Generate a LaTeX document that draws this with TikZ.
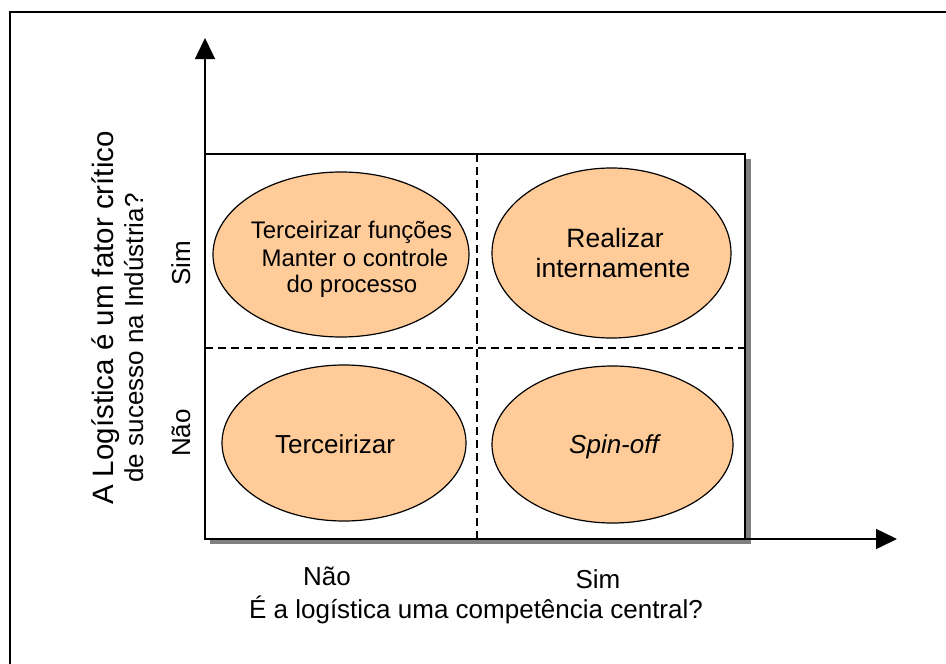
\documentclass[tikz,border=0pt]{standalone}
\usepackage{fontspec}
\setmainfont{Liberation Sans}
\usetikzlibrary{arrows.meta,shapes.geometric}
\definecolor{peach}{HTML}{FFCC99}
\definecolor{shadowgray}{HTML}{808080}
\begin{document}
\begin{tikzpicture}[x=1pt,y=-1pt,
  oval/.style={ellipse,draw=black,line width=1.2pt,fill=peach,inner sep=0pt},
  txt/.style={inner sep=0pt,anchor=base,font=\fontsize{26}{30}\selectfont},
  smalltxt/.style={inner sep=0pt,anchor=base,font=\fontsize{24}{27}\selectfont},
  divider/.style={line width=1.2pt,dash pattern=on 8pt off 5pt},
  axis/.style={line width=1.5pt,-{Triangle[length=21pt,width=20pt]}}]
\useasboundingbox (0,0) rectangle (946,664);
% outer frame (left and top edges visible)
\draw[line width=2pt] (10,664) -- (10,12) -- (946,12);
% matrix box with shadow
\fill[shadowgray] (210,159) rectangle (751,544);
\draw[fill=white,line width=1.5pt] (205,154) rectangle (745,539);
% dividers
\coordinate (vt) at (477,154);
\coordinate (vb) at (477,539);
\coordinate (hl) at (205,348);
\coordinate (hr) at (745,348);
\draw[divider] (vt) -- (vb);
\draw[divider] (hl) -- (hr);
% axes
\coordinate (o) at (205,539);
\coordinate (ytip) at (205,38);
\coordinate (xtip) at (897,539);
\draw[axis] (o) -- (ytip);
\draw[axis] (o) -- (xtip);
% ellipses
\node[oval,minimum width=256pt,minimum height=165pt] (e1) at (341,254.5) {};
\node[oval,minimum width=239pt,minimum height=170pt] (e2) at (611.5,253) {};
\node[oval,minimum width=244pt,minimum height=156pt] (e3) at (344,443) {};
\node[oval,minimum width=241pt,minimum height=157pt] (e4) at (612.5,444.5) {};
% ellipse texts
\node[smalltxt] (t1a) at (351.5,238) {Terceirizar funções};
\node[smalltxt] (t1b) at (355,266) {Manter o controle};
\node[smalltxt] (t1c) at (352,292.5) {do processo};
\node[txt,font=\fontsize{26.5}{30}\selectfont] (t2a) at (615,247) {Realizar};
\node[txt,font=\fontsize{26.5}{30}\selectfont] (t2b) at (613,277) {internamente};
\node[txt] (t3) at (335,453) {Terceirizar};
\node[txt] (t4) at (614,453) {\itshape Spin-off};
% axis labels
\node[txt] (xn) at (327,585) {Não};
\node[txt] (xs) at (598,588) {Sim};
\node[txt] (xq) at (476,618) {É a logística uma competência central?};
\node[txt,rotate=90] (ys) at (190,263) {Sim};
\node[txt,rotate=90] (yn) at (190,433) {Não};
\node[txt,rotate=90,font=\fontsize{29.5}{34}\selectfont] (yq1) at (113,318) {A Logística é um fator crítico};
\node[txt,rotate=90] (yq2) at (143,338) {de sucesso na Indústria?};
\end{tikzpicture}
\end{document}
